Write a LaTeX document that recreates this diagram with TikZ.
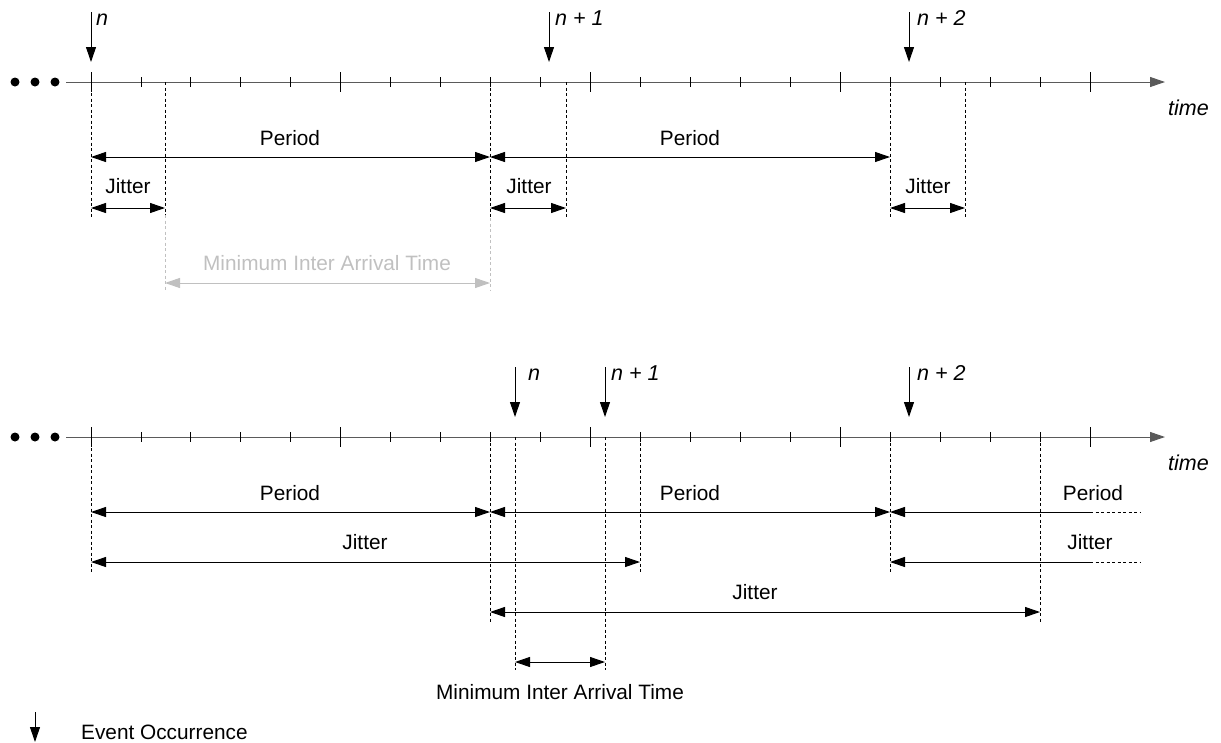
\documentclass[tikz,border=0pt]{standalone}
\usepackage{fontspec}
\setmainfont{Liberation Sans}
\usetikzlibrary{arrows.meta, positioning}
\definecolor{axisline}{RGB}{90,90,90}
\definecolor{faint}{RGB}{192,192,192}

\begin{document}
\begin{tikzpicture}[x=1pt, y=-1pt, font=\fontsize{20.8}{25}\selectfont,
  >={Triangle[length=15pt, width=10pt]},
  axis/.style={->, line width=1pt, draw=axisline},
  evt/.style={->, line width=1pt},
  dim/.style={<->, line width=1pt},
  guide/.style={line width=0.8pt, dash pattern=on 3pt off 2.5pt},
  dot/.style={circle, fill, inner sep=0pt, minimum size=9pt},
  lbl/.style={anchor=base, inner sep=0pt},
  nlbl/.style={anchor=base west, inner sep=0pt, font=\fontsize{21.5}{25}\selectfont\itshape}]
\useasboundingbox (0,0) rectangle (1221,742);

% time axes
\foreach \y/\row in {82/t, 437/b} {
  \foreach \xd [count=\k from 1] in {15,35,55} \node[dot] (\row d\k) at (\xd,\y) {};
  \coordinate (\row s) at (66,\y);
  \coordinate (\row e) at (1165,\y);
  \draw[axis] (\row s) -- (\row e);
  \foreach \i in {0,...,20} {
    \pgfmathsetmacro\len{mod(\i,5)==0 ? 10 : 5}
    \draw[line width=0.9pt] (91+49.95*\i,\y-\len) -- (91+49.95*\i,\y+\len);
  }
  \node[nlbl] (\row time) at (1168,\y+33) {time};
}

% events
\foreach \nm/\x/\y/\lx/\txt in {tn/91/12/96/n, tn1/549/12/555/n + 1, tn2/909/12/917/n + 2,
    bn/515/367/528/n, bn1/605/367/611/n + 1, bn2/909/367/917/n + 2} {
  \coordinate (\nm) at (\x,\y);
  \draw[evt] (\nm) -- ++(0,50);
  \node[nlbl] (\nm l) at (\lx,\y+13) {\txt};
}

% upper diagram
\foreach \nm/\x/\len in {gA/91/136, gB/165/133, gC/490/136, gD/566/136, gE/890/136, gF/965/136} {
  \coordinate (\nm) at (\x,82);
  \draw[guide] (\nm) -- ++(0,\len);
}
\draw[guide, faint] (gB |- 0,215) -- (gB |- 0,290);
\draw[guide, faint] (gC |- 0,218) -- (gC |- 0,290);

\draw[dim] (gA |- 0,157) -- (gC |- 0,157);
\node[lbl] (per1) at (290,145) {Period};
\draw[dim] (gC |- 0,157) -- (gE |- 0,157);
\node[lbl] (per2) at (690,145) {Period};

\draw[dim] (gA |- 0,208) -- (gB |- 0,208);
\node[lbl] (jit1) at (128,193) {Jitter};
\draw[dim] (gC |- 0,208) -- (gD |- 0,208);
\node[lbl] (jit2) at (529,193) {Jitter};
\draw[dim] (gE |- 0,208) -- (gF |- 0,208);
\node[lbl] (jit3) at (928,193) {Jitter};

\draw[dim, draw=faint] (gB |- 0,283) -- (gC |- 0,283);
\node[lbl, text=faint] (miat1) at (327,270) {Minimum Inter Arrival Time};

% lower diagram
\foreach \nm/\x/\len in {hA/91/135, hB/490/185, hC/515/233, hD/605/233, hE/640/135, hF/890/135, hG/1040/185} {
  \coordinate (\nm) at (\x,437);
  \draw[guide] (\nm) -- ++(0,\len);
}

\draw[dim] (hA |- 0,512) -- (hB |- 0,512);
\node[lbl] (per3) at (290,500) {Period};
\draw[dim] (hB |- 0,512) -- (hF |- 0,512);
\node[lbl] (per4) at (690,500) {Period};
\coordinate (pEnd) at (1090,512);
\coordinate (pFade) at (1140,512);
\draw[<-, line width=1pt] (hF |- 0,512) -- (pEnd);
\draw[guide] (pEnd) -- (pFade);
\node[lbl] (per5) at (1093,500) {Period};

\draw[dim] (hA |- 0,562) -- (hE |- 0,562);
\node[lbl] (jit4) at (365,549) {Jitter};
\coordinate (jEnd) at (1090,562);
\coordinate (jFade) at (1140,562);
\draw[<-, line width=1pt] (hF |- 0,562) -- (jEnd);
\draw[guide] (jEnd) -- (jFade);
\node[lbl] (jit5) at (1090,549) {Jitter};

\draw[dim] (hB |- 0,612) -- (hG |- 0,612);
\node[lbl] (jit6) at (755,599) {Jitter};

\draw[dim] (hC |- 0,662) -- (hD |- 0,662);
\node[lbl] (miat2) at (560,699) {Minimum Inter Arrival Time};

% legend
\coordinate (lg) at (35,712);
\draw[evt] (lg) -- ++(0,30);
\node[anchor=base west, inner sep=0pt] (lgl) at (81,739) {Event Occurrence};
\end{tikzpicture}
\end{document}
